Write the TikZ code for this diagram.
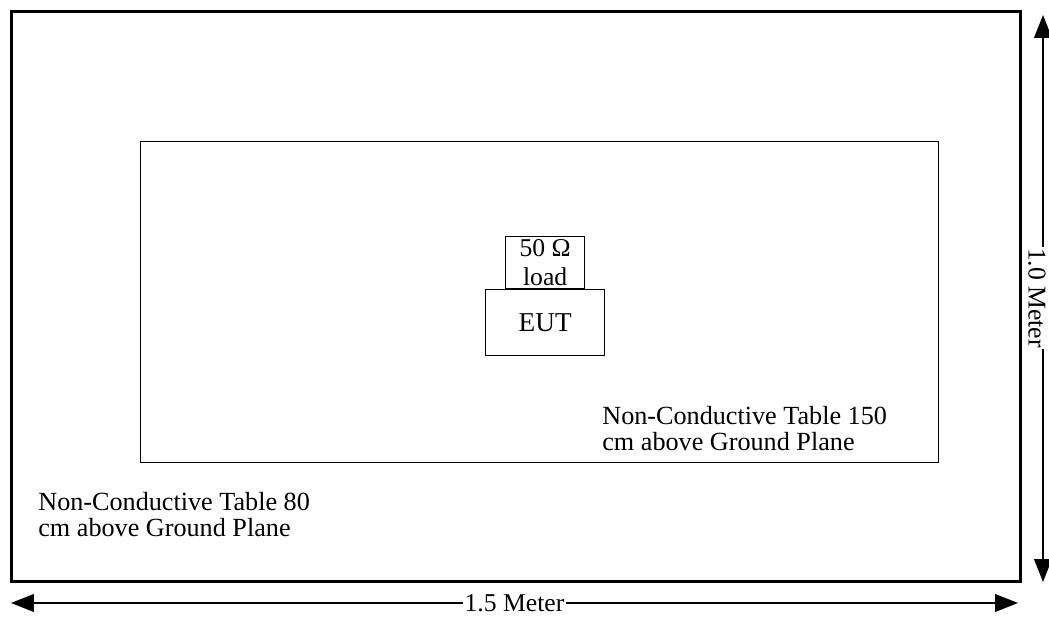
\documentclass[tikz,border=0pt]{standalone}
\usepackage{fontspec}
\setmainfont{Liberation Serif}
\usetikzlibrary{arrows.meta, positioning}
\tikzset{
  plate/.style={rectangle, draw, anchor=north west, inner sep=0pt},
  ground/.style={plate, line width=1.7pt},
  table/.style={plate, line width=0.8pt},
  dev/.style={rectangle, draw, line width=0.8pt, inner sep=0pt,
              align=center, font=\fontsize{14.6}{16.4}\selectfont},
  note/.style={anchor=north west, inner sep=0pt, align=left,
               font=\fontsize{14.9}{14.6}\selectfont},
  dim/.style={{Triangle[length=13pt,width=10pt]}-{Triangle[length=13pt,width=10pt]},
              line width=1.1pt},
  dimlbl/.style={fill=white, inner sep=1pt, font=\fontsize{14.6}{16}\selectfont},
}
\begin{document}
\begin{tikzpicture}[x=0.02cm, y=-0.02cm, node distance=0pt]
  \useasboundingbox (0,0) rectangle (1049,617);
  % ground plane and tables
  \node[ground, minimum width=20.18cm, minimum height=11.4cm] (gnd) at (10,10) {};
  \node[table, minimum width=15.96cm, minimum height=6.42cm] (tbl) at (140,141) {};
  \node[dev, anchor=north west, minimum width=2.38cm, minimum height=1.32cm,
        font=\fontsize{15.5}{16}\selectfont] (eut) at (485,289) {EUT};
  \node[dev, minimum width=1.58cm, minimum height=1.04cm, above=of eut] (load)
    {50 Ω\\load};
  \node[note] (tblnote) at (602,406) {Non-Conductive Table 150\\cm above Ground Plane};
  \node[note] (gndnote) at (38,492) {Non-Conductive Table 80\\cm above Ground Plane};
  % dimensions
  \coordinate (wl) at (11,603);
  \coordinate (wr) at (1018,603);
  \coordinate (ht) at (1043,15);
  \coordinate (hb) at (1043,582);
  \draw[dim] (wl) -- (wr) node[dimlbl, midway] {1.5 Meter};
  \draw[dim] (ht) -- (hb);
  \node[dimlbl, rotate=-90, inner sep=0.5pt] (hlbl) at (1037,298) {1.0 Meter};
\end{tikzpicture}
\end{document}
